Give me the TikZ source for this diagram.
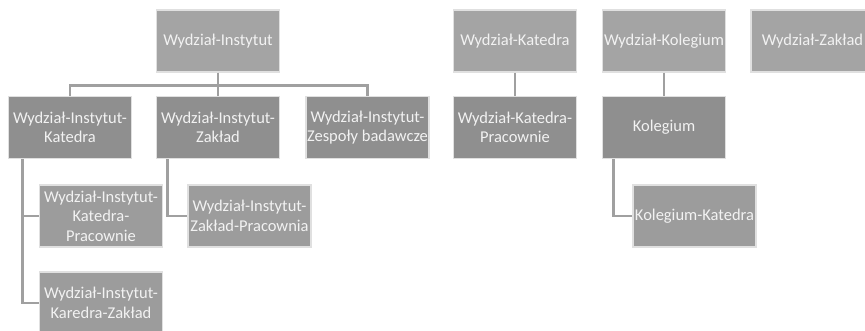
\documentclass[tikz,border=0pt]{standalone}
\usepackage{fontspec}
\setmainfont{Carlito}
\definecolor{boxA}{HTML}{A4A4A4}
\definecolor{boxB}{HTML}{8F8F8F}
\definecolor{boxC}{HTML}{9C9C9C}
\definecolor{edgeline}{HTML}{E0E0E0}
\definecolor{conn}{HTML}{A0A0A0}
\definecolor{txt}{HTML}{F2F2F2}
\tikzset{
  orgbox/.style={draw=edgeline, line width=1.5pt, minimum width=123pt, minimum height=62pt,
    inner sep=0pt, align=center, text=txt, font=\fontsize{16.5}{19.5}\selectfont},
  lvA/.style={orgbox, fill=boxA},
  lvB/.style={orgbox, fill=boxB},
  lvC/.style={orgbox, fill=boxC},
  link/.style={draw=conn, line width=2.8pt}
}
\begin{document}
\begin{tikzpicture}[x=1pt,y=-1pt]
\useasboundingbox (0,0) rectangle (865,330);
\clip (0,0) rectangle (865,330);
\node[lvA] (WI) at (218,41) {Wydział-Instytut};
\node[lvB] (WIK) at (70,127.5) {Wydział-Instytut-\\Katedra};
\node[lvB] (WIZ) at (218,127.5) {Wydział-Instytut-\\Zakład};
\node[lvB] (WIZB) at (367.5,127.5) {Wydział-Instytut-\\Zespoły badawcze};
\node[lvC] (WIKP) at (101,216) {Wydział-Instytut-\\Katedra-\\Pracownie};
\node[lvC] (WIKZ) at (101,303) {Wydział-Instytut-\\Karedra-Zakład};
\node[lvC] (WIZP) at (249.5,216) {Wydział-Instytut-\\Zakład-Pracownia};
\node[lvA] (WK) at (515,41) {Wydział-Katedra};
\node[lvB] (WKP) at (515,127.5) {Wydział-Katedra-\\Pracownie};
\node[lvA] (WKol) at (664,41) {Wydział-Kolegium};
\node[lvB] (Kol) at (664,127.5) {Kolegium};
\node[lvC] (KolK) at (694.5,216) {Kolegium-Katedra};
\node[lvA] (WZ) at (812.5,41) {Wydział-Zakład};
\draw[link] (WI.south) -- ++(0,13) -| (WIK.north);
\draw[link] (WI.south) -- ++(0,13) -| (WIZB.north);
\draw[link] (WI.south) -- (WIZ.north);
\draw[link] ([xshift=15pt]WIK.south west) |- (WIKP.west);
\draw[link] ([xshift=15pt]WIK.south west) |- (WIKZ.west);
\draw[link] ([xshift=12pt]WIZ.south west) |- (WIZP.west);
\draw[link] (WK.south) -- (WKP.north);
\draw[link] (WKol.south) -- (Kol.north);
\draw[link] ([xshift=12pt]Kol.south west) |- (KolK.west);
\end{tikzpicture}
\end{document}
